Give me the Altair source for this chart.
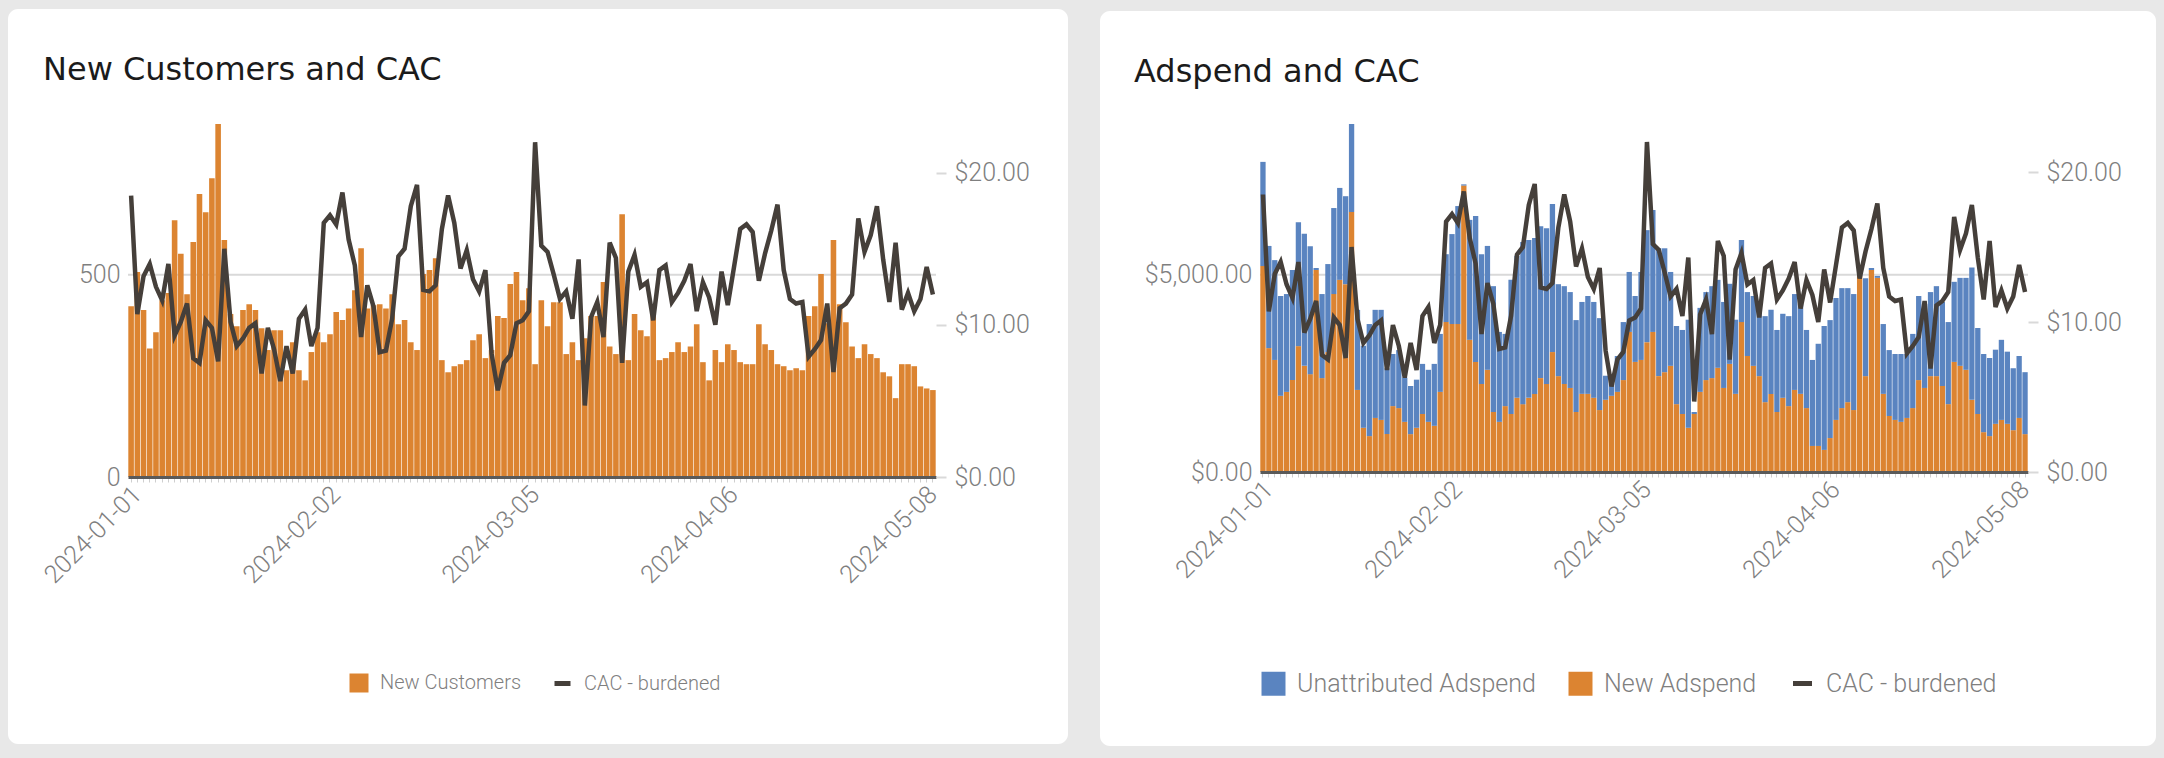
import json

import altair as alt
import pandas as pd

# ---- data -----------------------------------------------------------------
START_DATE = "2023-12-31"
N_DAYS = 130
LABEL_DATES = ["2024-01-01", "2024-02-02", "2024-03-05", "2024-04-06", "2024-05-08"]

new_customers = [
    422, 507, 413, 318, 358, 437, 455, 635, 552, 452,
    581, 700, 655, 739, 873, 586, 403, 373, 413, 427,
    413, 368, 314, 363, 363, 264, 333, 264, 239, 309,
    358, 333, 353, 408, 388, 417, 462, 566, 417, 425,
    427, 417, 452, 378, 388, 333, 314, 502, 512, 541,
    289, 259, 274, 279, 289, 338, 353, 294, 314, 398,
    393, 477, 507, 437, 467, 279, 437, 373, 432, 432,
    304, 333, 289, 343, 398, 398, 482, 323, 304, 650,
    289, 403, 363, 348, 408, 289, 294, 309, 333, 309,
    323, 378, 284, 239, 314, 284, 328, 314, 284, 279,
    279, 378, 328, 314, 279, 274, 264, 269, 264, 398,
    422, 502, 380, 586, 427, 383, 323, 294, 328, 304,
    294, 259, 249, 195, 279, 279, 274, 224, 219, 215,
]

cac_burdened = [
    18.5, 10.7, 13.2, 14.0, 12.5, 11.6, 14.0, 9.3, 10.2, 11.4,
    7.8, 7.5, 10.3, 9.8, 7.6, 15.0, 10.2, 8.6, 9.1, 9.8,
    10.1, 6.8, 9.8, 8.4, 6.3, 8.6, 6.8, 10.4, 11.0, 8.6,
    9.8, 16.7, 17.2, 16.6, 18.7, 15.6, 13.9, 9.2, 12.6, 11.2,
    8.2, 8.3, 10.4, 14.5, 15.0, 17.8, 19.2, 12.3, 12.2, 12.6,
    16.3, 18.5, 16.7, 13.7, 14.9, 13.0, 12.2, 13.6, 8.1, 5.7,
    7.5, 8.0, 10.1, 10.3, 10.9, 22.0, 15.2, 14.8, 13.3, 11.7,
    12.2, 10.4, 14.3, 4.7, 10.5, 11.5, 9.2, 15.4, 14.4, 7.5,
    13.5, 14.6, 12.5, 12.8, 10.3, 13.6, 13.9, 11.5, 12.1, 12.9,
    14.0, 10.9, 12.8, 11.8, 10.0, 13.5, 11.3, 13.8, 16.3, 16.6,
    16.1, 12.9, 14.7, 16.2, 17.9, 13.6, 11.7, 11.4, 11.5, 7.9,
    8.4, 9.0, 11.4, 6.9, 11.1, 11.4, 12.0, 17.0, 14.8, 15.9,
    17.8, 14.3, 11.5, 15.4, 11.0, 12.1, 10.9, 11.7, 13.8, 12.0,
]

new_adspend = [
    5220, 3140, 2840, 1930, 2030, 2330, 3190, 2690, 2480, 5120,
    2380, 3040, 4510, 4870, 4760, 6590, 2080, 1120, 910, 1370,
    1320, 960, 1670, 1620, 1270, 960, 1120, 1470, 1270, 1170,
    2030, 3800, 3750, 3750, 7260, 3350, 2790, 2230, 2590, 1520,
    1270, 1670, 1470, 1880, 1720, 1880, 1980, 2380, 2230, 3040,
    2430, 2230, 2130, 1520, 1980, 1980, 1880, 1570, 1830, 1930,
    2030, 2330, 3550, 2790, 2840, 3290, 3550, 2430, 2530, 2690,
    1720, 1470, 1120, 1470, 2030, 2330, 2380, 2640, 2130, 2740,
    1980, 3800, 2940, 2690, 2430, 1770, 1980, 1520, 1880, 1670,
    2080, 1980, 1620, 660, 660, 560, 860, 1320, 1620, 1770,
    1570, 4970, 2430, 5120, 4920, 1980, 1420, 1320, 1270, 1370,
    1620, 2330, 2130, 2430, 2430, 2180, 1720, 2790, 2690, 2590,
    1830, 1470, 1010, 910, 1220, 1320, 1220, 1060, 1370, 960,
]

unattributed_adspend = [
    2640, 2590, 2530, 2530, 2480, 2790, 3140, 3350, 3240, 50,
    2130, 2230, 2180, 2330, 2230, 2230, 2030, 2080, 2840, 2740,
    2790, 1670, 1320, 1470, 1120, 1220, 1220, 1270, 1320, 1570,
    1470, 1720, 2280, 2990, 30, 3040, 3700, 3290, 3140, 3190,
    2280, 1830, 3400, 3600, 4110, 4000, 3950, 3850, 3950, 3750,
    2330, 2480, 2430, 2330, 2330, 2480, 2430, 2330, 610, 300,
    910, 1470, 1520, 1670, 2230, 2840, 3090, 3240, 3140, 2380,
    1980, 2130, 2740, 50, 2130, 2230, 2330, 2230, 2180, 2030,
    1880, 2080, 1620, 1770, 1770, 2180, 2130, 2080, 2130, 2280,
    2430, 2280, 1980, 2180, 2590, 3140, 2990, 3090, 3040, 2890,
    2940, 30, 2480, 50, 50, 1770, 1670, 1670, 1720, 1620,
    1880, 2130, 2130, 2130, 2280, 2130, 2080, 2030, 2230, 2330,
    3350, 2180, 1980, 1980, 1880, 2030, 1830, 1570, 1570, 1570,
]

dates = pd.date_range(START_DATE, periods=N_DAYS, freq="D").strftime("%Y-%m-%d").tolist()

customers_df = pd.DataFrame({"date": dates, "customers": new_customers, "series": "New Customers"})
cac_df = pd.DataFrame({"date": dates, "cac": cac_burdened, "metric": "CAC - burdened"})
spend_df = pd.concat(
    [
        pd.DataFrame({"date": dates, "spend": new_adspend, "spend_type": "New Adspend", "rank": 0}),
        pd.DataFrame({"date": dates, "spend": unattributed_adspend,
                      "spend_type": "Unattributed Adspend", "rank": 1}),
    ],
    ignore_index=True,
)

# ---- styling --------------------------------------------------------------
ORANGE = "#dc8431"
BLUE = "#5a84c0"
LINE = "#453f3a"
GRID = "#d9d9d9"
TICK = "#cfcfcf"
BASE = "#5a5a5a"
TEXT = "#7f7f7f"
PAGE = "#e8e8e8"
FONT = "Roboto"
HEAD_FONT = "DejaVu Sans"

LABEL_EXPR = "indexof(" + json.dumps(LABEL_DATES) + ", datum.value) >= 0 ? datum.value : ''"


def x_axis():
    return alt.Axis(
        title=None, labelExpr=LABEL_EXPR, labelAngle=315, labelAlign="right",
        labelBaseline="middle", labelOverlap=False, labelPadding=8, labelFont=FONT,
        labelFontSize=25, labelFontWeight=300, labelColor=TEXT, domainColor=BASE,
        domainWidth=3, tickColor=TICK, tickSize=5, tickWidth=1, grid=False, zindex=1,
    )


def x_enc():
    return alt.X("date:O", scale=alt.Scale(paddingInner=0.1, paddingOuter=0.05), axis=x_axis())


def cac_axis():
    return alt.Axis(
        orient="right", title=None, values=[0, 10, 20], format="$.2f", grid=False,
        domain=False, ticks=True, tickSize=10, tickWidth=2, tickColor=GRID, labelPadding=8,
        labelFont=FONT, labelFontSize=25, labelFontWeight=300, labelColor=TEXT, zindex=1,
    )


def left_axis(values, fmt):
    return alt.Axis(
        orient="left", title=None, values=values, format=fmt, grid=False, domain=False,
        ticks=False, labelPadding=8, labelFont=FONT, labelFontSize=25, labelFontWeight=300,
        labelColor=TEXT, zindex=1,
    )


def legend(x, y, symbol, size, font_size, stroke_width=0, col_pad=28):
    return alt.Legend(
        orient="none", legendX=x, legendY=y, direction="horizontal", title=None,
        symbolType=symbol, symbolSize=size, symbolStrokeWidth=stroke_width,
        labelFont=FONT, labelFontSize=font_size, labelFontWeight=300, labelColor=TEXT,
        labelOffset=11, labelLimit=500, columnPadding=col_pad, padding=0,
    )


def card(w, h, left, right, top, bottom):
    return alt.Chart(pd.DataFrame({"card": [0]})).mark_rect(
        fill="white", cornerRadius=10
    ).encode(
        x=alt.value(-left), x2=alt.value(w + right), y=alt.value(-top), y2=alt.value(h + bottom)
    )


def heading(text, dx, dy):
    return alt.Chart(pd.DataFrame({"heading": [text]})).mark_text(
        align="left", baseline="alphabetic", font=HEAD_FONT, fontSize=32, color="#1b1b1b"
    ).encode(x=alt.value(dx), y=alt.value(dy), text="heading:N")


def grid_rule(level, field, axis):
    # horizontal gridline drawn beneath the bars, on the same y scale
    return alt.Chart(pd.DataFrame({field: [level]})).mark_rule(
        color=GRID, strokeWidth=2
    ).encode(y=alt.Y(f"{field}:Q", axis=axis))


def cac_line(lx, ly, size, font_size):
    return alt.Chart(cac_df).mark_line(strokeWidth=4.5, strokeJoin="miter").encode(
        x=x_enc(),
        y=alt.Y("cac:Q", scale=alt.Scale(domain=[0, 23.2], nice=False), axis=cac_axis()),
        stroke=alt.Stroke(
            "metric:N",
            scale=alt.Scale(domain=["CAC - burdened"], range=[LINE]),
            legend=legend(lx, ly, "stroke", size, font_size, stroke_width=5),
        ),
    )


# ---- left panel: New Customers and CAC ----------------------------------
LW, LH = 808, 353
cust_axis = left_axis([0, 500], "d")

customer_bars = alt.Chart(customers_df).mark_bar().encode(
    x=x_enc(),
    y=alt.Y("customers:Q", scale=alt.Scale(nice=False, zero=True), axis=cust_axis),
    color=alt.Color(
        "series:N",
        scale=alt.Scale(domain=["New Customers"], range=[ORANGE]),
        legend=legend(221, 549, "square", 361, 20),
    ),
)

left = alt.layer(
    card(LW, LH, 120, 132, 115, 267),
    alt.layer(grid_rule(500, "customers", cust_axis), customer_bars),
    cac_line(424, 549, 256, 20),
    heading("New Customers and CAC", -85, -44),
).resolve_scale(y="independent").properties(width=LW, height=LH)

# ---- right panel: Adspend and CAC ----------------------------------------
RW, RH = 768, 348
spend_axis = left_axis([0, 5000], "$,.2f")

spend_bars = alt.Chart(spend_df).mark_bar().encode(
    x=x_enc(),
    y=alt.Y("spend:Q", stack="zero", scale=alt.Scale(nice=False, zero=True), axis=spend_axis),
    color=alt.Color(
        "spend_type:N",
        scale=alt.Scale(domain=["Unattributed Adspend", "New Adspend"], range=[BLUE, ORANGE]),
        legend=legend(1, 547, "square", 576, 25, col_pad=32),
    ),
    order=alt.Order("rank:Q"),
)

right = alt.layer(
    card(RW, RH, 160, 128, 113, 274),
    alt.layer(grid_rule(5000, "spend", spend_axis), spend_bars),
    cac_line(530, 547, 361, 25),
    heading("Adspend and CAC", -126, -42),
).resolve_scale(y="independent").properties(width=RW, height=RH)

chart = alt.hconcat(left, right, spacing=32).resolve_scale(
    color="independent", stroke="independent"
).properties(
    background=PAGE,
    padding={"left": 8, "top": 9, "right": 8, "bottom": 14},
).configure_view(strokeWidth=0)

chart.save("out.html", embed_options={"renderer": "svg", "actions": False})
